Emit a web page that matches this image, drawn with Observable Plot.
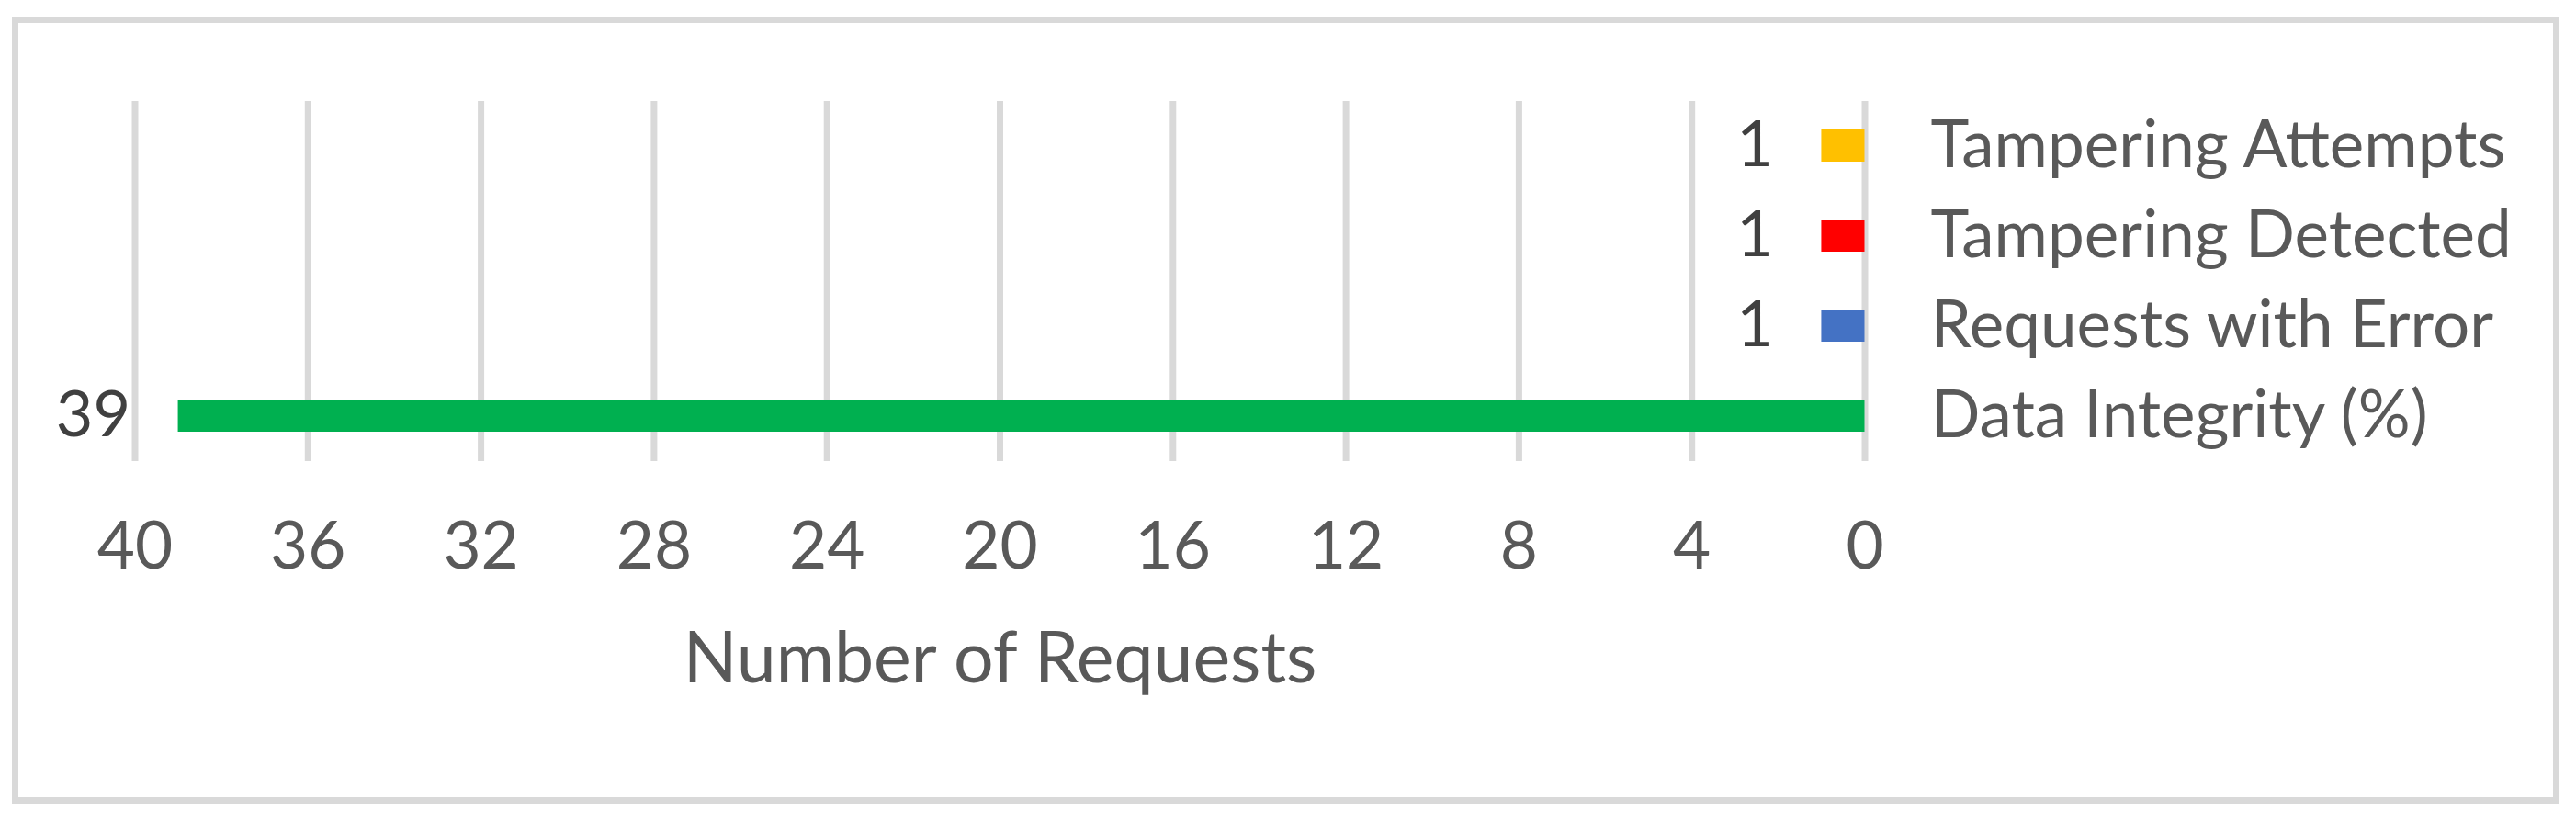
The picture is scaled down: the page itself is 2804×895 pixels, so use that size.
<!DOCTYPE html>
<html>
<head>
<meta charset="utf-8">
<script src="https://cdn.jsdelivr.net/npm/d3@7"></script>
<script src="https://cdn.jsdelivr.net/npm/@observablehq/plot@0.6"></script>
<style>
  html, body { margin: 0; padding: 0; background: white; }
</style>
</head>
<body>
<div id="chart"></div>
<script>
const categories = ["Tampering Attempts", "Tampering Detected", "Requests with Error", "Data Integrity (%)"];
const values = [1, 1, 1, 39];
const colors = ["#FFC000", "#FF0000", "#4472C4", "#00B050"];
const xTicks = [40, 36, 32, 28, 24, 20, 16, 12, 8, 4, 0];
const axisTitle = "Number of Requests";

const data = categories.map((c, i) => ({category: c, value: values[i]}));

const chart = Plot.plot({
  width: 2804,
  height: 895,
  marginLeft: 146.5,
  marginRight: 774.5,
  marginTop: 110,
  marginBottom: 393,
  style: {fontFamily: "Lato, 'Open Sans', sans-serif", fontSize: "71px", color: "#595959", background: "white"},
  x: {domain: [0, 40], reverse: true, ticks: xTicks, tickSize: 0, tickPadding: 66, label: null, tickFormat: d => String(d)},
  y: {domain: categories, paddingInner: 0.64, paddingOuter: 0.32, axis: "right", tickSize: 0, tickPadding: 71.5, label: null},
  color: {domain: categories, range: colors},
  marks: [
    Plot.ruleX(xTicks, {stroke: "#d9d9d9", strokeWidth: 7}),
    Plot.barX(data, {x: "value", y: "category", fill: "category"}),
    Plot.text(data, {x: "value", y: "category", text: d => String(d.value), textAnchor: "end", dx: -52, fill: "#404040", fontSize: 70}),
    Plot.text([axisTitle], {frameAnchor: "bottom", lineAnchor: "middle", dy: 216, fontSize: 77, fill: "#595959"})
  ]
});

const svg = d3.select(chart);
svg.append("rect")
  .attr("x", 16.5).attr("y", 21.5)
  .attr("width", 2766).attr("height", 850)
  .attr("fill", "none").attr("stroke", "#d9d9d9").attr("stroke-width", 7);

document.getElementById("chart").appendChild(chart);
</script>
</body>
</html>
